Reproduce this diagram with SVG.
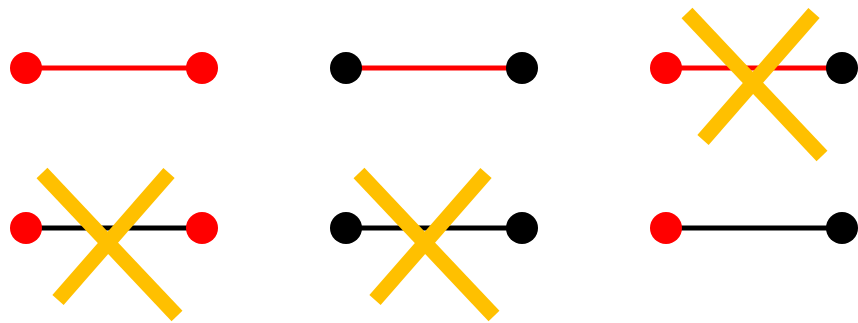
<svg xmlns="http://www.w3.org/2000/svg" width="858" height="323" viewBox="0 0 858 323">
<style>
.er{stroke:#FF0000;stroke-width:5}
.eb{stroke:#000000;stroke-width:5}
.nr{fill:#FF0000}
.nb{fill:#000000}
.x{stroke:#FFC000;stroke-width:15;fill:none}
</style>
<rect width="858" height="323" fill="#FFFFFF"/>
<g id="connectors">
<line class="er" x1="26" y1="68" x2="202" y2="68"/>
<line class="er" x1="346" y1="68" x2="522" y2="68"/>
<line class="er" x1="666" y1="68" x2="842" y2="68"/>
<line class="eb" x1="26" y1="228" x2="202" y2="228"/>
<line class="eb" x1="346" y1="228" x2="522" y2="228"/>
<line class="eb" x1="666" y1="228" x2="842" y2="228"/>
</g>
<g id="n1"><circle class="nr" cx="26" cy="68" r="16"/></g>
<g id="n2"><circle class="nr" cx="202" cy="68" r="16"/></g>
<g id="n3"><circle class="nb" cx="346" cy="68" r="16"/></g>
<g id="n4"><circle class="nb" cx="522" cy="68" r="16"/></g>
<g id="n5"><circle class="nr" cx="666" cy="68" r="16"/></g>
<g id="n6"><circle class="nb" cx="842" cy="68" r="16"/></g>
<g id="n7"><circle class="nr" cx="26" cy="228" r="16"/></g>
<g id="n8"><circle class="nr" cx="202" cy="228" r="16"/></g>
<g id="n9"><circle class="nb" cx="346" cy="228" r="16"/></g>
<g id="n10"><circle class="nb" cx="522" cy="228" r="16"/></g>
<g id="n11"><circle class="nr" cx="666" cy="228" r="16"/></g>
<g id="n12"><circle class="nb" cx="842" cy="228" r="16"/></g>
<g id="cross1">
<line class="x" x1="687" y1="13" x2="822" y2="156"/>
<line class="x" x1="814" y1="13" x2="703" y2="140"/>
</g>
<g id="cross2">
<line class="x" x1="42" y1="173" x2="177" y2="316"/>
<line class="x" x1="169" y1="173" x2="58" y2="300"/>
</g>
<g id="cross3">
<line class="x" x1="359" y1="173" x2="494" y2="316"/>
<line class="x" x1="486" y1="173" x2="375" y2="300"/>
</g>
</svg>
